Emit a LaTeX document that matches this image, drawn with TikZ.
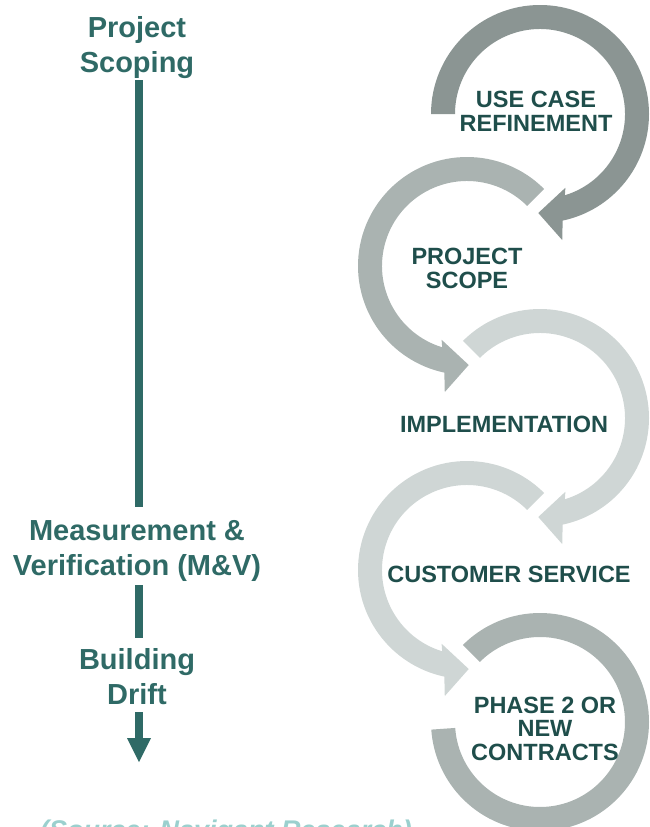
\documentclass[tikz,border=0pt]{standalone}
\usepackage{fontspec}
\setmainfont{Liberation Sans}
\usetikzlibrary{calc}
\definecolor{tealA}{HTML}{2F6A66}
\definecolor{tealB}{HTML}{1F4E4B}
\definecolor{grayA}{HTML}{8B9593}
\definecolor{grayB}{HTML}{AAB3B1}
\definecolor{grayC}{HTML}{CFD6D5}
\definecolor{srcteal}{HTML}{9BD0CE}
\begin{document}
\begin{tikzpicture}[x=1pt,y=1pt,
  lefttxt/.style={font=\bfseries\fontsize{29}{35}\selectfont, text=tealA, align=center, inner sep=0pt, anchor=base},
  righttxt/.style={font=\bfseries\fontsize{23.5}{23.5}\selectfont, text=tealB, align=center, inner sep=0pt, anchor=base},
  stem/.style={draw=tealA, line width=8pt},
  headfill/.style={fill=tealA},
]
\useasboundingbox (0,0) rectangle (650,-827);
\clip (0,0) rectangle (650,-827);

% ---- cycle arrows ----
\coordinate (c1) at (540,-114);
\coordinate (c2) at (467,-266);
\coordinate (c3) at (540,-418);
\coordinate (c4) at (467,-570);
\coordinate (c5) at (540,-722);

\fill[grayA] ($(c1)+(180:109)$) arc[start angle=180, end angle=-78, radius=109]
  -- ($(c1)+(-80:128)$) -- ($(c1)+(-91:99)$) -- ($(c1)+(-71:78)$) -- ($(c1)+(-73:85)$)
  arc[start angle=-73, end angle=180, radius=85] -- cycle;

\fill[grayB] ($(c2)+(45:109)$) arc[start angle=45, end angle=258, radius=109]
  -- ($(c2)+(260:128)$) -- ($(c2)+(271:99)$) -- ($(c2)+(251:78)$) -- ($(c2)+(253:85)$)
  arc[start angle=253, end angle=45, radius=85] -- cycle;

\fill[grayC] ($(c3)+(135:109)$) arc[start angle=135, end angle=-78, radius=109]
  -- ($(c3)+(-80:128)$) -- ($(c3)+(-91:99)$) -- ($(c3)+(-71:78)$) -- ($(c3)+(-73:85)$)
  arc[start angle=-73, end angle=135, radius=85] -- cycle;

\fill[grayC] ($(c4)+(45:109)$) arc[start angle=45, end angle=258, radius=109]
  -- ($(c4)+(260:128)$) -- ($(c4)+(271:99)$) -- ($(c4)+(251:78)$) -- ($(c4)+(253:85)$)
  arc[start angle=253, end angle=45, radius=85] -- cycle;

\fill[grayB] ($(c5)+(135:109)$) arc[start angle=135, end angle=-176, radius=109]
  -- ($(c5)+(-176:85)$) arc[start angle=-176, end angle=135, radius=85] -- cycle;

% ---- right labels (anchor = baseline of last line) ----
\node[righttxt] (uc) at (536,-131) {USE CASE\\REFINEMENT};
\node[righttxt] (ps) at (467,-288) {PROJECT\\SCOPE};
\node[righttxt] (im) at (504,-432) {IMPLEMENTATION};
\node[righttxt] (cs) at (509,-582) {CUSTOMER SERVICE};
\node[righttxt] (ph) at (545,-760) {PHASE 2 OR\\NEW\\CONTRACTS};

% ---- left timeline ----
\node[lefttxt] (scop) at (137,-72) {Project\\Scoping};
\node[lefttxt] (mv) at (137,-575) {Measurement \&\\Verification (M\&V)};
\node[lefttxt] (bd) at (137,-704) {Building\\Drift};

\coordinate (s1a) at (139,-80);
\coordinate (s1b) at (139,-507);
\coordinate (s2a) at (139,-585);
\coordinate (s2b) at (139,-638);
\coordinate (s3a) at (139,-712);
\coordinate (s3b) at (139,-738);
\coordinate (hl) at (127,-738);
\coordinate (hr) at (151,-738);
\coordinate (ht) at (139,-762);
\draw[stem] (s1a) -- (s1b);
\draw[stem] (s2a) -- (s2b);
\draw[stem] (s3a) -- ([yshift=-1pt]s3b);
\fill[headfill] (hl) -- (hr) -- (ht) -- cycle;

% ---- source ----
\node[font=\bfseries\itshape\fontsize{27}{27}\selectfont, text=srcteal, anchor=base west, inner sep=0pt] (source) at (40,-839) {(Source: Navigant Research)};
\end{tikzpicture}
\end{document}
